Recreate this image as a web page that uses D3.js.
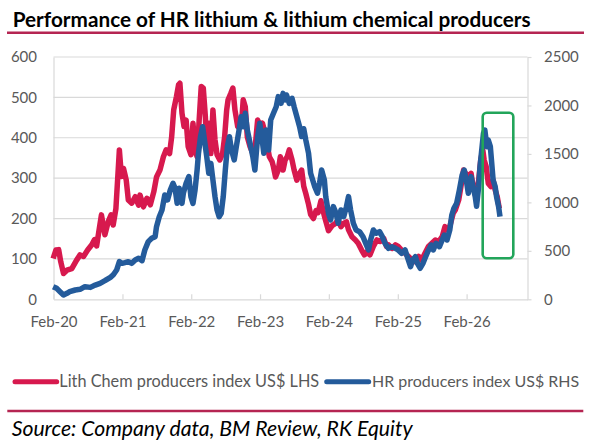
<!DOCTYPE html>
<html>
<head>
<meta charset="utf-8">
<script src="https://cdn.jsdelivr.net/npm/d3@7"></script>
<style>
  body { margin: 0; background: #fff; }
  svg { display: block; font-family: Lato, "Open Sans", sans-serif; }
</style>
</head>
<body>
<div id="chart"></div>
<script>
// dates are decimal years (Feb-yy sits at yy.085)
const lithDates = [2020.08,2020.12,2020.16,2020.19,2020.23,2020.28,2020.35,2020.42,2020.47,2020.52,
  2020.58,2020.64,2020.68,2020.71,2020.75,2020.78,2020.81,2020.83,2020.88,2020.92,2020.95,2020.99,
  2021.02,2021.04,2021.07,2021.10,2021.14,2021.17,2021.22,2021.27,2021.32,2021.34,2021.39,2021.44,
  2021.49,2021.54,2021.58,2021.63,2021.68,2021.72,2021.77,2021.80,2021.83,2021.87,2021.90,2021.92,
  2021.95,2021.98,2022.01,2022.04,2022.08,2022.11,2022.14,2022.17,2022.20,2022.23,2022.26,2022.29,
  2022.31,2022.34,2022.37,2022.40,2022.43,2022.46,2022.50,2022.54,2022.57,2022.60,2022.62,2022.66,
  2022.69,2022.72,2022.76,2022.78,2022.82,2022.84,2022.87,2022.90,2022.94,2022.98,2023.01,2023.05,
  2023.09,2023.12,2023.16,2023.19,2023.22,2023.26,2023.28,2023.31,2023.35,2023.38,2023.42,2023.45,
  2023.48,2023.51,2023.55,2023.58,2023.62,2023.66,2023.69,2023.72,2023.75,2023.79,2023.82,2023.86,
  2023.90,2023.93,2023.97,2024.00,2024.03,2024.08,2024.13,2024.18,2024.22,2024.26,2024.30,2024.34,
  2024.37,2024.42,2024.47,2024.51,2024.56,2024.60,2024.64,2024.68,2024.73,2024.78,2024.83,2024.88,
  2024.92,2024.95,2025.00,2025.05,2025.09,2025.14,2025.19,2025.24,2025.29,2025.34,2025.39,2025.43,
  2025.48,2025.53,2025.58,2025.63,2025.68,2025.73,2025.77,2025.80,2025.84,2025.89,2025.92,2025.97,
  2026.01,2026.04,2026.07,2026.11,2026.15,2026.18,2026.22,2026.26,2026.29,2026.32,2026.34,2026.37,
  2026.40,2026.44,2026.47,2026.50,2026.53,2026.56]
const lithValues = [101,122,123,93,64,72,76,97,110,106,
  122,135,148,132,176,209,180,160,193,209,184,225,
  312,370,304,324,295,246,238,254,233,258,229,250,
  234,266,303,320,353,370,361,402,469,502,531,535,
  461,428,444,378,358,436,370,353,444,527,523,452,
  378,436,361,469,395,358,345,361,402,469,494,510,
  523,469,428,424,444,494,477,402,378,361,370,444,
  428,436,411,382,353,341,328,303,320,353,320,345,
  353,370,345,320,295,312,320,280,262,235,210,200,
  220,215,244,220,200,170,182,188,196,180,188,192,
  172,155,147,139,122,110,118,110,131,147,143,151,
  131,135,126,135,131,122,114,106,97,93,106,97,
  114,131,139,147,143,155,180,172,180,213,221,246,
  287,320,312,304,312,279,254,295,345,370,345,328,
  287,279,295,271,254,225]

const hrDates = [2020.08,2020.13,2020.18,2020.23,2020.28,2020.32,2020.40,2020.47,2020.54,2020.62,
  2020.69,2020.76,2020.83,2020.91,2020.95,2021.00,2021.04,2021.08,2021.12,2021.17,2021.22,2021.27,
  2021.32,2021.37,2021.41,2021.46,2021.51,2021.56,2021.58,2021.62,2021.66,2021.70,2021.74,2021.78,
  2021.82,2021.85,2021.88,2021.91,2021.95,2021.97,2022.01,2022.05,2022.08,2022.11,2022.14,2022.17,
  2022.19,2022.22,2022.25,2022.29,2022.31,2022.34,2022.37,2022.40,2022.43,2022.46,2022.49,2022.52,
  2022.55,2022.58,2022.61,2022.64,2022.67,2022.71,2022.74,2022.78,2022.81,2022.84,2022.87,2022.90,
  2022.94,2022.98,2023.01,2023.05,2023.08,2023.11,2023.14,2023.17,2023.21,2023.24,2023.28,2023.32,
  2023.35,2023.39,2023.42,2023.45,2023.47,2023.51,2023.55,2023.58,2023.62,2023.66,2023.69,2023.72,
  2023.75,2023.79,2023.82,2023.85,2023.88,2023.92,2023.95,2023.98,2024.02,2024.04,2024.08,2024.11,
  2024.15,2024.19,2024.22,2024.26,2024.30,2024.34,2024.37,2024.40,2024.44,2024.48,2024.53,2024.58,
  2024.62,2024.66,2024.69,2024.73,2024.77,2024.82,2024.86,2024.90,2024.95,2025.00,2025.05,2025.09,
  2025.14,2025.19,2025.23,2025.27,2025.30,2025.34,2025.37,2025.41,2025.45,2025.48,2025.52,2025.57,
  2025.60,2025.64,2025.69,2025.73,2025.76,2025.80,2025.84,2025.87,2025.90,2025.94,2025.98,2026.02,
  2026.05,2026.08,2026.11,2026.15,2026.18,2026.21,2026.23,2026.26,2026.28,2026.31,2026.33,2026.35,
  2026.38,2026.40,2026.43,2026.45,2026.47,2026.50,2026.52,2026.55,2026.57]
const hrValues = [130,113,79,45,62,79,96,103,130,123,
  147,165,192,227,251,302,388,371,378,388,371,405,
  423,399,509,595,629,646,749,852,921,1076,1025,1128,
  1197,1145,990,1145,990,1094,1197,1266,1059,990,1128,1334,
  1506,1678,1781,1575,1472,1300,1403,1231,1059,921,852,887,
  1059,1334,1575,1678,1541,1438,1575,1747,1884,1781,1919,1747,
  1609,1472,1334,1678,1816,1678,1506,1747,1541,1850,1919,1987,
  2091,2022,2125,2057,2108,2022,2074,1987,1884,1781,1679,1760,
  1644,1507,1300,1231,1162,1094,1197,1334,1231,1059,887,818,
  956,887,784,921,852,956,1059,921,784,715,698,646,
  577,509,612,715,681,698,646,577,526,543,526,509,
  474,509,423,337,405,440,371,320,371,423,491,560,
  509,577,543,612,663,612,715,870,939,990,1128,1283,
  1334,1231,1094,1266,1162,1059,960,1162,1369,1575,1713,1747,
  1575,1644,1575,1403,1231,1162,1059,956,852]

const xTickDates = ["2020-02-01","2021-02-01","2022-02-01","2023-02-01","2024-02-01","2025-02-01","2026-02-01"]
const lhsTicks = [0, 100, 200, 300, 400, 500, 600]
const rhsTicks = [0, 500, 1000, 1500, 2000, 2500]

const titleText = "Performance of HR lithium & lithium chemical producers"
const sourceText = "Source: Company data, BM Review, RK Equity"
const legendLabels = ["Lith Chem producers index US$ LHS", "HR producers index US$ RHS"]

const W = 596, H = 446
const plot = { left: 53.5, right: 527.5, top: 57, bottom: 299.3 }
const red = "#d7194e", blue = "#245b9b", grey = "#d9d9d9", textGrey = "#595959", rule = "#b52552"

// decimal year -> Date
function decToDate(t) {
  const y = Math.floor(t)
  const a = new Date(y, 0, 1), b = new Date(y + 1, 0, 1)
  return new Date(+a + (t - y) * (b - a))
}
// scale font size so the text spans a given width
function fitText(sel, width) {
  const w = sel.node().getComputedTextLength()
  sel.attr("font-size", parseFloat(sel.attr("font-size")) * width / w)
}

const svg = d3.select("#chart").append("svg")
    .attr("width", W)
    .attr("height", H)

const x = d3.scaleTime()
    .domain([decToDate(2020.085), decToDate(2026.97)])
    .range([plot.left, plot.right])
const yL = d3.scaleLinear().domain([0, 600]).range([plot.bottom, plot.top])
const yR = d3.scaleLinear().domain([0, 2500]).range([plot.bottom, plot.top])

// title + rule
const title = svg.append("text")
    .attr("x", 12.7).attr("y", 26.5)
    .attr("font-size", 20).attr("font-weight", "bold").attr("fill", "#000")
    .text(titleText)
fitText(title, 518)
svg.append("line").attr("x1", 7).attr("x2", 584).attr("y1", 32.7).attr("y2", 32.7)
    .attr("stroke", rule).attr("stroke-width", 2.5)

// gridlines
svg.append("g").selectAll("line")
    .data(lhsTicks.filter(d => d > 0))
    .enter().append("line")
    .attr("x1", plot.left).attr("x2", plot.right)
    .attr("y1", d => yL(d)).attr("y2", d => yL(d))
    .attr("stroke", grey).attr("stroke-width", 1.2)

// axes
const xAxis = d3.axisBottom(x)
    .tickValues(xTickDates.map(d => d3.timeParse("%Y-%m-%d")(d)))
    .tickFormat(d3.timeFormat("%b-%y"))
    .tickSizeInner(-5)
    .tickSizeOuter(0)
    .tickPadding(17.3)

const yAxisL = d3.axisLeft(yL).tickValues(lhsTicks).tickFormat(d3.format("d")).tickSize(0).tickPadding(16.5)
const yAxisR = d3.axisRight(yR).tickValues(rhsTicks).tickFormat(d3.format("d"))
    .tickSizeInner(4).tickSizeOuter(0).tickPadding(12.5)

const gx = svg.append("g").attr("transform", "translate(0," + plot.bottom + ")").call(xAxis)
const gl = svg.append("g").attr("transform", "translate(" + plot.left + ",0)").call(yAxisL)
const gr = svg.append("g").attr("transform", "translate(" + plot.right + ",0)").call(yAxisR)

;[gx, gl, gr].forEach(g => {
  g.select(".domain").attr("stroke", grey).attr("stroke-width", 1.2)
  g.selectAll(".tick line").attr("stroke", grey).attr("stroke-width", 1.2)
  g.selectAll("text").attr("fill", textGrey).style("font-size", "15px").style("font-family", "Lato, 'Open Sans', sans-serif")
})

// lines
const lithData = lithDates.map((d, i) => ({ date: decToDate(d), value: lithValues[i] }))
const hrData = hrDates.map((d, i) => ({ date: decToDate(d), value: hrValues[i] }))

svg.append("path")
    .datum(lithData)
    .attr("fill", "none")
    .attr("stroke", red)
    .attr("stroke-width", 5.5)
    .attr("stroke-linejoin", "round")
    .attr("d", d3.line().x(d => x(d.date)).y(d => yL(d.value)))

svg.append("path")
    .datum(hrData)
    .attr("fill", "none")
    .attr("stroke", blue)
    .attr("stroke-width", 5.5)
    .attr("stroke-linejoin", "round")
    .attr("d", d3.line().x(d => x(d.date)).y(d => yR(d.value)))

// green highlight box
svg.append("rect")
    .attr("x", 482.7).attr("y", 112.7)
    .attr("width", 30.6).attr("height", 145.6)
    .attr("rx", 4).attr("ry", 4)
    .attr("fill", "none")
    .attr("stroke", "#22a55a")
    .attr("stroke-width", 2.6)

// legend
const legend = [
  { label: legendLabels[0], color: red, x1: 15, x2: 56.7, tx: 59.3, w: 260 },
  { label: legendLabels[1], color: blue, x1: 326.7, x2: 368.7, tx: 372, w: 207.3 }
]
legend.forEach(l => {
  svg.append("line")
      .attr("x1", l.x1).attr("x2", l.x2).attr("y1", 381.7).attr("y2", 381.7)
      .attr("stroke", l.color).attr("stroke-width", 5).attr("stroke-linecap", "round")
  const t = svg.append("text")
      .attr("x", l.tx).attr("y", 386.8)
      .attr("font-size", 15).attr("fill", textGrey)
      .text(l.label)
  fitText(t, l.w)
})

// source
svg.append("line").attr("x1", 7.3).attr("x2", 583.3).attr("y1", 411).attr("y2", 411)
    .attr("stroke", rule).attr("stroke-width", 2.5)
const src = svg.append("text")
    .attr("x", 11.7).attr("y", 435.5)
    .attr("font-size", 17).attr("font-style", "italic").attr("fill", "#000")
    .text(sourceText)
fitText(src, 401)
</script>
</body>
</html>
